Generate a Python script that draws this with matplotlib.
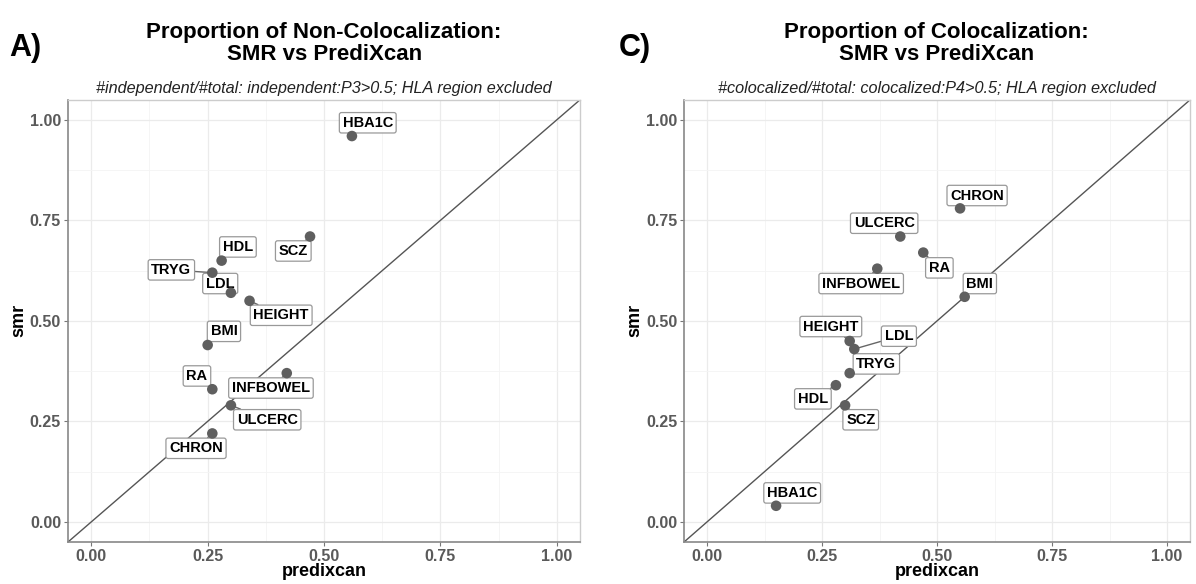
import matplotlib.pyplot as plt

plt.rcParams['font.family'] = ['Liberation Sans', 'DejaVu Sans']

# Panel A: non-colocalization
traits_a = ["HBA1C", "SCZ", "HDL", "TRYG", "LDL", "HEIGHT", "BMI", "RA", "INFBOWEL", "ULCERC", "CHRON"]
predixcan_a = [0.56, 0.47, 0.28, 0.26, 0.30, 0.34, 0.25, 0.26, 0.42, 0.30, 0.26]
smr_a = [0.96, 0.71, 0.65, 0.62, 0.57, 0.55, 0.44, 0.33, 0.37, 0.29, 0.22]

# Panel C: colocalization
traits_c = ["CHRON", "ULCERC", "RA", "INFBOWEL", "BMI", "HEIGHT", "LDL", "TRYG", "HDL", "SCZ", "HBA1C"]
predixcan_c = [0.55, 0.42, 0.47, 0.37, 0.56, 0.31, 0.32, 0.31, 0.28, 0.30, 0.15]
smr_c = [0.78, 0.71, 0.67, 0.63, 0.56, 0.45, 0.43, 0.37, 0.34, 0.29, 0.04]

# where the repelled labels ended up (data coords)
label_pos_a = {"HBA1C": (0.594, 0.993), "SCZ": (0.434, 0.674), "HDL": (0.315, 0.684),
               "TRYG": (0.172, 0.627), "LDL": (0.277, 0.593), "HEIGHT": (0.408, 0.514),
               "BMI": (0.285, 0.474), "RA": (0.227, 0.363), "INFBOWEL": (0.386, 0.333),
               "ULCERC": (0.378, 0.254), "CHRON": (0.225, 0.183)}
label_pos_c = {"CHRON": (0.587, 0.812), "ULCERC": (0.385, 0.743), "RA": (0.505, 0.632),
               "INFBOWEL": (0.335, 0.593), "BMI": (0.593, 0.593), "HEIGHT": (0.269, 0.486),
               "LDL": (0.417, 0.462), "TRYG": (0.368, 0.393), "HDL": (0.230, 0.306),
               "SCZ": (0.334, 0.254), "HBA1C": (0.185, 0.072)}

ticks = [0.00, 0.25, 0.50, 0.75, 1.00]
tick_labels = ["0.00", "0.25", "0.50", "0.75", "1.00"]


def panel(ax, x, y, traits, label_pos, subtitle):
    ax.set_xlim(-0.05, 1.05)
    ax.set_ylim(-0.05, 1.05)
    ax.set_xticks(ticks)
    ax.set_yticks(ticks)
    ax.set_xticklabels(tick_labels)
    ax.set_yticklabels(tick_labels)
    ax.set_xticks([0.125, 0.375, 0.625, 0.875], minor=True)
    ax.set_yticks([0.125, 0.375, 0.625, 0.875], minor=True)
    ax.grid(True, which='major', color='#ebebeb', lw=0.9)
    ax.grid(True, which='minor', color='#f4f4f4', lw=0.6)
    ax.set_axisbelow(True)
    ax.tick_params(which='major', labelsize=11.5, labelcolor='#5a5a5a', color='#777777', length=3, width=0.8, pad=2)
    ax.tick_params(which='minor', length=0)
    for lbl in ax.get_xticklabels() + ax.get_yticklabels():
        lbl.set_fontweight('bold')
    for s in ['top', 'right']:
        ax.spines[s].set_color('#cccccc')
        ax.spines[s].set_linewidth(1.0)
    for s in ['left', 'bottom']:
        ax.spines[s].set_color('#888888')
        ax.spines[s].set_linewidth(1.2)

    ax.plot([-0.05, 1.05], [-0.05, 1.05], color='#555555', lw=1.0, zorder=2)

    for t, px, py in zip(traits, x, y):
        lx, ly = label_pos[t]
        ax.annotate(t, xy=(px, py), xytext=(lx, ly), fontsize=10.5, fontweight='bold',
                    ha='center', va='center', color='black', zorder=4,
                    bbox=dict(boxstyle='round,pad=0.22,rounding_size=0.15', fc='white', ec='#999999', lw=0.9),
                    arrowprops=dict(arrowstyle='-', color='#666666', lw=1.0, shrinkA=0, shrinkB=0))
    ax.scatter(x, y, s=58, color='#5f5f5f', zorder=5, edgecolors='none')

    ax.set_xlabel('predixcan', fontsize=13, fontweight='bold', labelpad=-1)
    ax.set_ylabel('smr', fontsize=13, fontweight='bold', labelpad=2)
    ax.set_title(subtitle, fontsize=11.7, style='italic', color='#222222', pad=5)


fig = plt.figure(figsize=(11.96, 5.84), dpi=100)
ax1 = fig.add_axes([0.0569, 0.072, 0.428, 0.757])
ax2 = fig.add_axes([0.572, 0.072, 0.423, 0.757])

panel(ax1, predixcan_a, smr_a, traits_a, label_pos_a,
      '#independent/#total: independent:P3>0.5; HLA region excluded')
panel(ax2, predixcan_c, smr_c, traits_c, label_pos_c,
      '#colocalized/#total: colocalized:P4>0.5; HLA region excluded')

fig.text(0.271, 0.925, 'Proportion of Non-Colocalization:\nSMR vs PrediXcan', ha='center', va='center',
         fontsize=16, fontweight='bold', linespacing=1.05)
fig.text(0.783, 0.925, 'Proportion of Colocalization:\nSMR vs PrediXcan', ha='center', va='center',
         fontsize=16, fontweight='bold', linespacing=1.05)
fig.text(0.008, 0.918, 'A)', fontsize=22, fontweight='bold', va='center')
fig.text(0.517, 0.918, 'C)', fontsize=22, fontweight='bold', va='center')

plt.savefig('out.png', dpi=100)
